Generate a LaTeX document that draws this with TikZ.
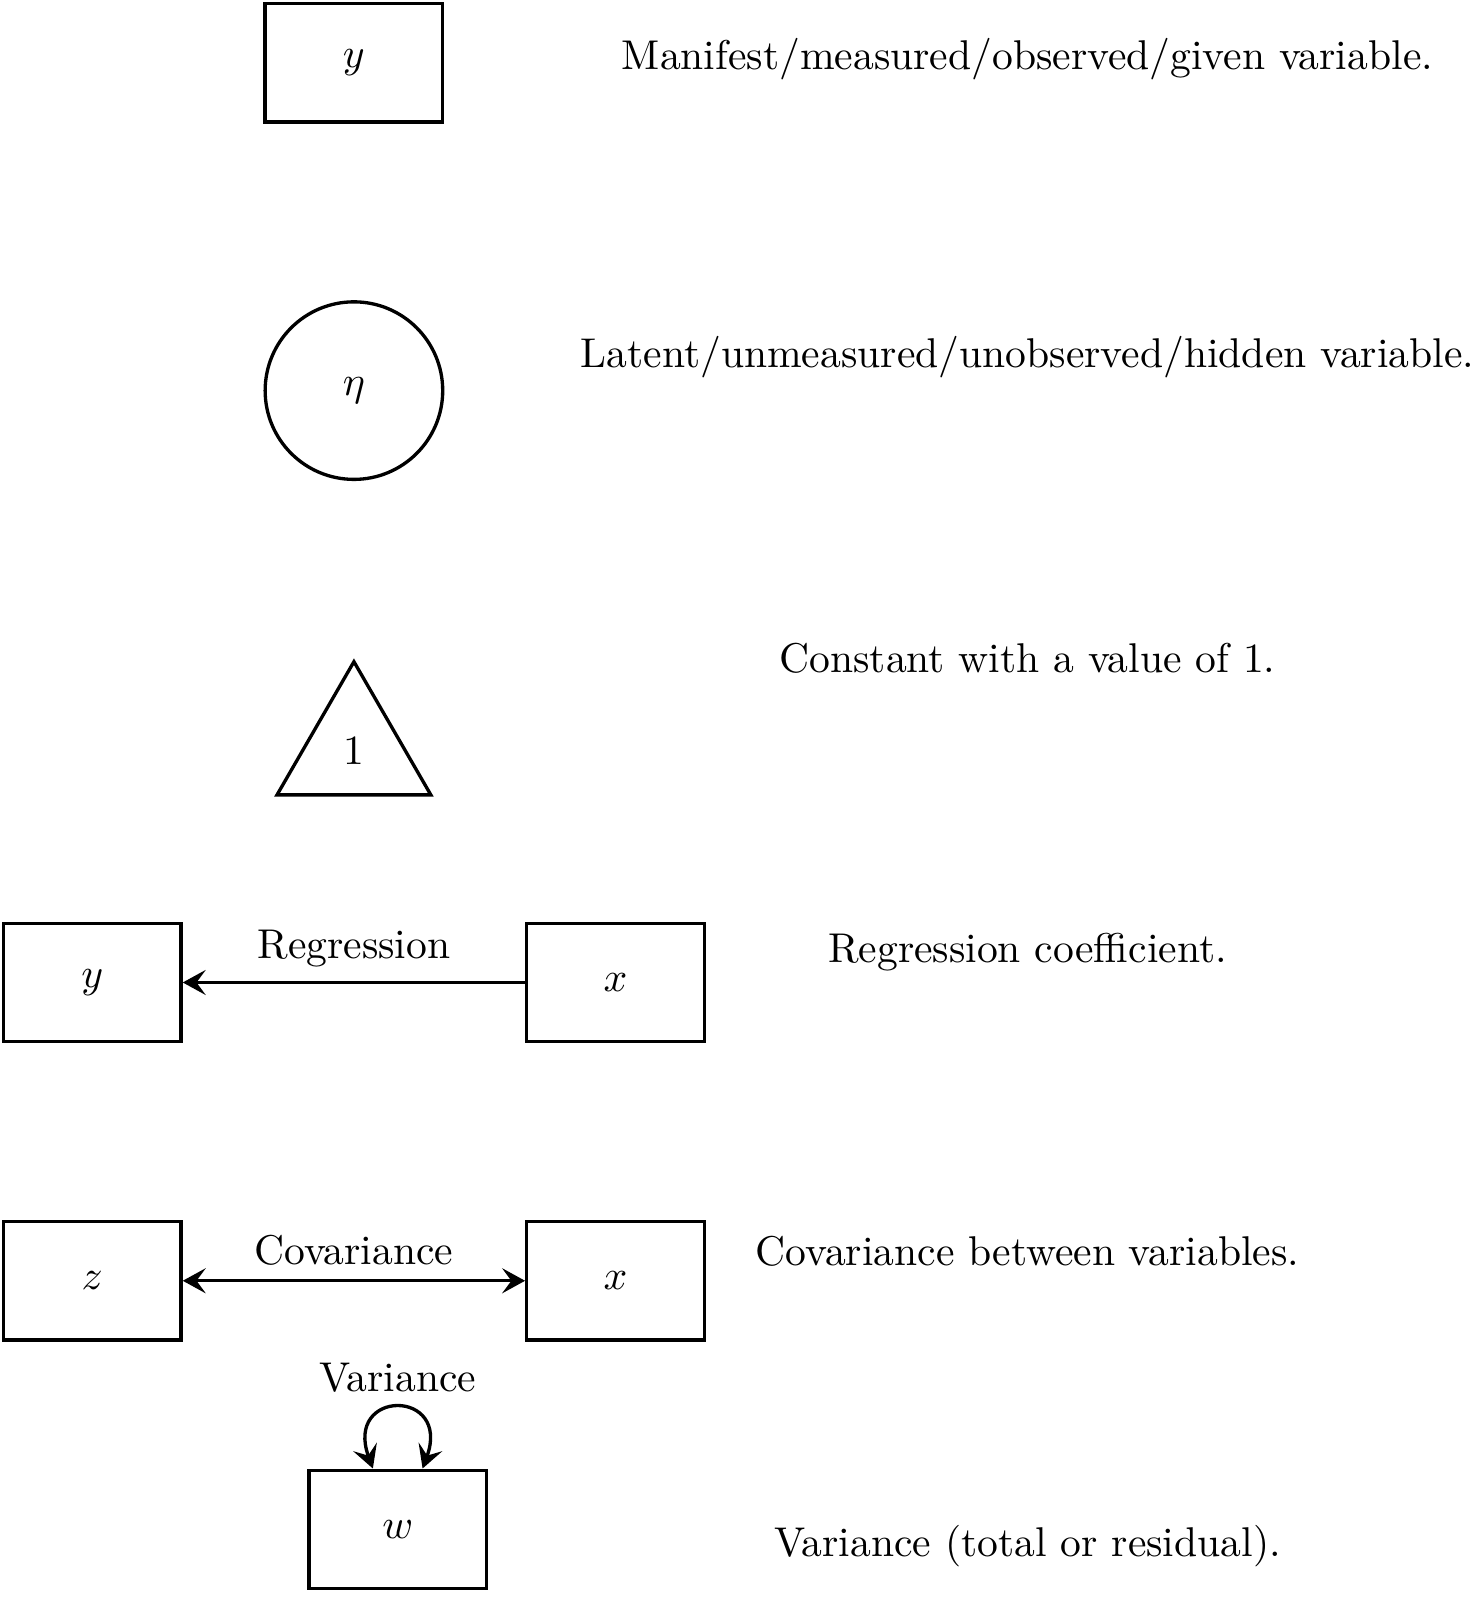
\documentclass[tikz,border=0pt]{standalone}
\usetikzlibrary{shapes,arrows,arrows.meta}
\tikzset{%
	manifest/.style = {draw, thick, rectangle, minimum height = 1cm,
		minimum width = 1.5cm},
	latent/.style   = {draw, thick, circle, minimum size = 1.5cm}, % Latent
	constant/.style = {draw, thick, regular polygon, regular polygon sides = 3,
		minimum size = 1.5cm, inner sep = 0pt}, % Constant
	desc/.style     = {anchor = center}, % Description
	path/.style     = {thick, >={Stealth[length=5.5pt,width=6pt,inset=2.2pt]}} % Path
}
\begin{document}
\begin{tikzpicture}
                \useasboundingbox (0,0) rectangle (12.455,-13.593);

                \node[manifest] (manY) at (2.99,-0.53) {$y$} ;
                \node[latent] (latEta) at (2.99,-3.30) {$\eta$} ;
                \node[constant] (const) at (2.99,-6.34) {1} ;

                \node[manifest] (regY) at (0.78,-8.30) {$y$} ;
                \node[manifest] (regX) at (5.20,-8.30) {$x$} ;

                \node[manifest] (covZ) at (0.78,-10.82) {$z$} ;
                \node[manifest] (covX) at (5.20,-10.82) {$x$} ;

                \node[manifest] (varW) at (3.36,-12.92) {$w$} ;

                \node[desc] (dManifest) at (8.68,-0.50) {Manifest/measured/observed/given variable.} ;
                \node[desc] (dLatent) at (8.68,-3.02) {Latent/unmeasured/unobserved/hidden variable.} ;
                \node[desc] (dConst) at (8.68,-5.56) {Constant with a value of 1.} ;
                \node[desc] (dReg) at (8.68,-8.04) {Regression coefficient.} ;
                \node[desc] (dCov) at (8.68,-10.57) {Covariance between variables.} ;
                \node[desc] (dVar) at (8.68,-13.06) {Variance (total or residual).} ;

                \draw[path,->] (regX) -- node[above] {Regression} (regY);
                \draw[path,<->] (covZ) -- node[above] {Covariance} (covX);
                \draw[path,<->] ([xshift=-0.21cm]varW.north) .. controls +(110:0.72) and +(70:0.72) .. ([xshift=0.21cm]varW.north) node[midway,above] {Variance};
            \end{tikzpicture}
\end{document}
